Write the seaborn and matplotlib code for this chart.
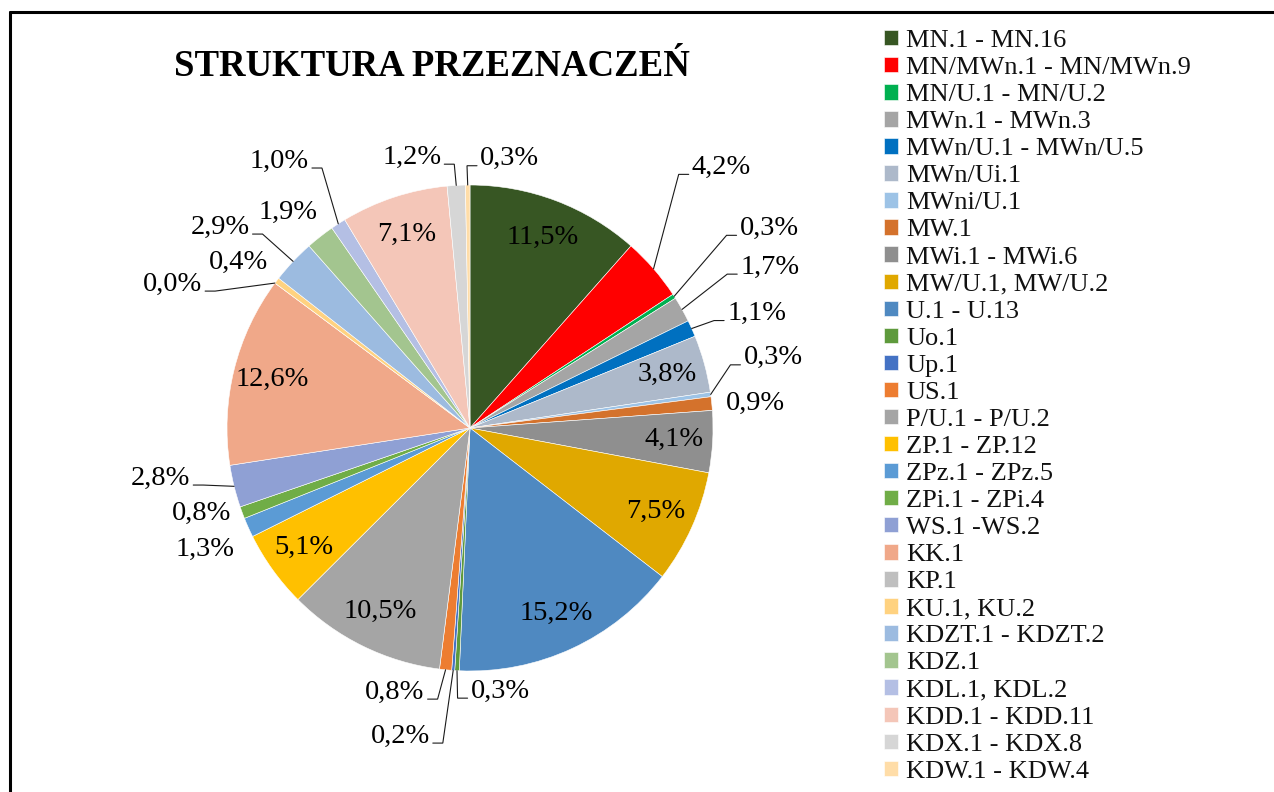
import numpy as np
import matplotlib
matplotlib.use("Agg")
import matplotlib.pyplot as plt
from matplotlib.lines import Line2D
import seaborn as sns

# data (percent of total area)
categories = [
    "MN.1 - MN.16", "MN/MWn.1 - MN/MWn.9", "MN/U.1 - MN/U.2", "MWn.1 - MWn.3",
    "MWn/U.1 - MWn/U.5", "MWn/Ui.1", "MWni/U.1", "MW.1", "MWi.1 - MWi.6",
    "MW/U.1, MW/U.2", "U.1 - U.13", "Uo.1", "Up.1", "US.1", "P/U.1 - P/U.2",
    "ZP.1 - ZP.12", "ZPz.1 - ZPz.5", "ZPi.1 - ZPi.4", "WS.1 -WS.2", "KK.1",
    "KP.1", "KU.1, KU.2", "KDZT.1 - KDZT.2", "KDZ.1", "KDL.1, KDL.2",
    "KDD.1 - KDD.11", "KDX.1 - KDX.8", "KDW.1 - KDW.4",
]
shares = [
    11.5, 4.2, 0.3, 1.7, 1.1, 3.8, 0.3, 0.9, 4.1, 7.5, 15.2, 0.3, 0.2, 0.8,
    10.5, 5.1, 1.3, 0.8, 2.8, 12.6, 0.0, 0.4, 2.9, 1.9, 1.0, 7.1, 1.2, 0.3,
]
colors = [
    "#375623", "#FF0000", "#00B050", "#A5A5A5", "#0070C0", "#ADB9CA", "#9DC3E6",
    "#D4722C", "#8F8F8F", "#E0A800", "#4F89C1", "#5E9A3C", "#4472C4", "#ED7D31",
    "#A5A5A5", "#FFC000", "#5B9BD5", "#70AD47", "#8FA0D4", "#F0A889", "#BFBFBF",
    "#FFD280", "#9CBBE0", "#A3C58F", "#B4BFE4", "#F4C6B8", "#D6D6D6", "#FFDDA8",
]

# label layout: None -> inside; (radius, angle shift deg, leader line)
label_layout = [
    None, (1.49, 5.1, True), (1.48, 0.9, True), (1.40, -1.0, True),
    (1.27, -2.4, True), None, (1.28, 5.1, True), (1.18, -0.8, False),
    None, None, None, (1.09, 9.6, True), (1.30, -8.8, True),
    (1.13, -10.1, True), None, None, (1.20, 0.5, False), (1.16, -2.8, False),
    (1.29, -4.7, True), None, (1.36, 10.8, True), (1.17, 1.7, False),
    (1.32, 4.5, True), (1.16, 2.2, False), (1.35, 2.7, True), None,
    (1.14, 8.9, True), (1.12, -8.9, True),
]

sns.set_theme(style="white")
plt.rcParams["font.family"] = ["Liberation Serif", "DejaVu Serif"]
plt.rcParams["text.color"] = "black"

W, H = 1274, 792
R_PX = 243
fig = plt.figure(figsize=(W / 100, H / 100), dpi=100)
fig.patch.set_facecolor("white")

xl, yl = 1.8, 1.45
cx, cy = 470, H - 428
ax = fig.add_axes([(cx - xl * R_PX) / W, (cy - yl * R_PX) / H,
                   2 * xl * R_PX / W, 2 * yl * R_PX / H])

wedges, _ = ax.pie(shares, colors=colors, startangle=90, counterclock=False,
                   wedgeprops=dict(edgecolor="white", linewidth=0.4))
ax.set_xlim(-xl, xl)
ax.set_ylim(-yl, yl)
ax.axis("off")

fmt = lambda v: f"{v:.1f}%".replace(".", ",")
leaders = []
for w, v, lay in zip(wedges, shares, label_layout):
    mid = np.deg2rad((w.theta1 + w.theta2) / 2)
    if lay is None:
        ax.text(0.84 * np.cos(mid), 0.84 * np.sin(mid), fmt(v), ha="center",
                va="center", fontsize=20.5, color="black")
        continue
    r, shift, has_line = lay
    a = mid + np.deg2rad(shift)
    t = ax.text(r * np.cos(a), r * np.sin(a), fmt(v), ha="center",
                va="center", fontsize=20.5, color="black")
    if has_line:
        leaders.append((t, (np.cos(mid), np.sin(mid))))

fig.canvas.draw()
inv = ax.transData.inverted()
px = 1 / R_PX
for t, (x, y) in leaders:
    bb = t.get_window_extent()
    (x0, y0), (x1, y1) = inv.transform([[bb.x0, bb.y0], [bb.x1, bb.y1]])
    ya = y0 + 0.22 * (y1 - y0)
    if (x0 + x1) / 2 > x:
        sx = x0 - 3 * px
        ex = sx - 10 * px
    else:
        sx = x1 + 3 * px
        ex = sx + 10 * px
    ax.plot([x, ex, sx], [y, ya, ya], color="#1a1a1a", lw=0.8,
            solid_joinstyle="miter")

fig.text(432 / W, 1 - 66 / H, "STRUKTURA PRZEZNACZEŃ", ha="center",
         va="center", fontsize=26.5, fontweight="bold", color="black")

fig.legend(wedges, categories, loc="upper left",
           bbox_to_anchor=(884 / W, 1 - 30 / H), frameon=False, fontsize=19,
           borderpad=0, borderaxespad=0, handlelength=0.52, handleheight=0.52,
           handletextpad=0.32, labelspacing=0.19, labelcolor="#111111")

# frame of the pasted chart (top and left edges)
fig.add_artist(Line2D([10 / W, 1], [1 - 12 / H, 1 - 12 / H], color="black",
                      lw=2.2, transform=fig.transFigure))
fig.add_artist(Line2D([10 / W, 10 / W], [0, 1 - 12 / H], color="black",
                      lw=2.2, transform=fig.transFigure))

fig.savefig("out.png", dpi=100)
